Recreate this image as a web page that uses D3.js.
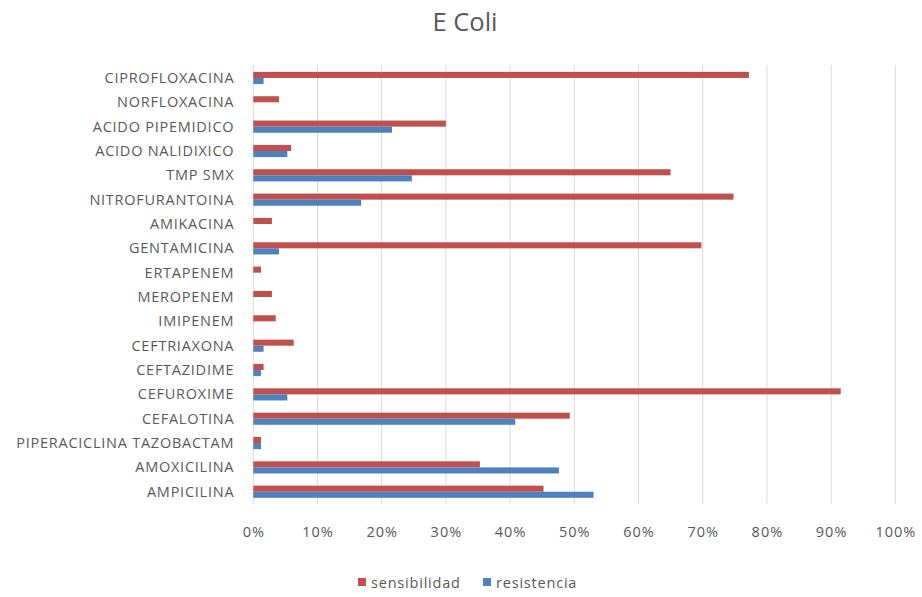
<!DOCTYPE html>
<html>
<head>
<meta charset="utf-8">
<script src="https://cdn.jsdelivr.net/npm/d3@7"></script>
<style>
  html, body { margin: 0; padding: 0; background: #ffffff; }
  svg { display: block; font-family: "Open Sans", "Liberation Sans", sans-serif; }
</style>
</head>
<body>
<svg id="chart" width="922" height="597"></svg>
<script>
// Antibiotic susceptibility of E. coli (share of isolates)
const categories = [
  "CIPROFLOXACINA", "NORFLOXACINA", "ACIDO PIPEMIDICO", "ACIDO NALIDIXICO",
  "TMP SMX", "NITROFURANTOINA", "AMIKACINA", "GENTAMICINA", "ERTAPENEM",
  "MEROPENEM", "IMIPENEM", "CEFTRIAXONA", "CEFTAZIDIME", "CEFUROXIME",
  "CEFALOTINA", "PIPERACICLINA TAZOBACTAM", "AMOXICILINA", "AMPICILINA"
];
const sensibilidad = [0.772, 0.040, 0.300, 0.059, 0.650, 0.748, 0.029, 0.698, 0.012,
  0.029, 0.035, 0.063, 0.016, 0.915, 0.493, 0.012, 0.353, 0.452];
const resistencia = [0.016, 0, 0.216, 0.053, 0.247, 0.168, 0, 0.040, 0,
  0, 0, 0.016, 0.012, 0.053, 0.408, 0.012, 0.476, 0.530];
const seriesNames = ["sensibilidad", "resistencia"];
const seriesColors = ["#C0504D", "#4F81BD"];
const xTicks = [0, 0.1, 0.2, 0.3, 0.4, 0.5, 0.6, 0.7, 0.8, 0.9, 1.0];
const title = "E Coli";

const svg = d3.select("#chart");
const textColor = "#595959";

const margin = { left: 253.3, right: 922 - 895.3, top: 65.8, bottom: 597 - 503.9 };
const plotW = 922 - margin.left - margin.right;
const plotH = 597 - margin.top - margin.bottom;

const x = d3.scaleLinear().domain([0, 1]).range([margin.left, margin.left + plotW]);
const y = d3.scaleBand().domain(categories)
  .range([margin.top, margin.top + plotH])
  .paddingInner(0.5).paddingOuter(0.25);
const ySub = d3.scaleBand().domain(seriesNames).range([0, y.bandwidth()]);

const seriesData = [sensibilidad, resistencia];

// Title
svg.append("text")
  .attr("x", 465).attr("y", 31)
  .attr("text-anchor", "middle")
  .attr("fill", textColor)
  .style("font-size", "25.5px")
  .text(title);

// Vertical gridlines
svg.append("g")
  .selectAll("line")
  .data(xTicks)
  .join("line")
  .attr("x1", d => x(d)).attr("x2", d => x(d))
  .attr("y1", margin.top - 1).attr("y2", margin.top + plotH)
  .attr("stroke", "#D9D9D9").attr("stroke-width", 1);

// Bars
const groups = svg.append("g")
  .selectAll("g")
  .data(categories)
  .join("g")
  .attr("transform", d => `translate(0,${y(d)})`);

groups.selectAll("rect")
  .data((d, i) => seriesNames.map((s, k) => ({ s, k, v: seriesData[k][i] })))
  .join("rect")
  .attr("x", x(0))
  .attr("y", d => ySub(d.s))
  .attr("width", d => x(d.v) - x(0))
  .attr("height", ySub.bandwidth())
  .attr("fill", d => seriesColors[d.k]);

// Category labels
const yAxis = d3.axisLeft(y).tickSize(0).tickPadding(0);
const yG = svg.append("g")
  .attr("transform", `translate(${x(0) - 19},0)`)
  .call(yAxis);
yG.select(".domain").remove();
yG.selectAll("text")
  .attr("fill", textColor)
  .attr("dy", "0.35em")
  .style("font-size", "14.5px")
  .style("letter-spacing", "0.75px")
  .style("font-family", "\"Open Sans\", sans-serif");

// X axis tick labels
const xAxis = d3.axisBottom(x).tickValues(xTicks).tickFormat(d3.format(".0%")).tickSize(0).tickPadding(0);
const xG = svg.append("g")
  .attr("transform", `translate(0,${537 - 10})`)
  .call(xAxis);
xG.select(".domain").remove();
xG.selectAll("text")
  .attr("fill", textColor)
  .attr("dy", "0.71em")
  .style("font-size", "14.5px")
  .style("letter-spacing", "1px")
  .style("font-family", "\"Open Sans\", sans-serif");

// Legend
const legendItems = [
  { name: seriesNames[0], color: seriesColors[0], x: 358 },
  { name: seriesNames[1], color: seriesColors[1], x: 483 }
];
const lg = svg.append("g").selectAll("g")
  .data(legendItems)
  .join("g")
  .attr("transform", d => `translate(${d.x},583)`);
lg.append("rect")
  .attr("x", 0).attr("y", -5)
  .attr("width", 8).attr("height", 8)
  .attr("fill", d => d.color);
lg.append("text")
  .attr("x", 13).attr("y", 0)
  .attr("dy", "0.32em")
  .attr("fill", textColor)
  .style("font-size", "14.5px")
  .style("letter-spacing", "0.8px")
  .text(d => d.name);
</script>
</body>
</html>
